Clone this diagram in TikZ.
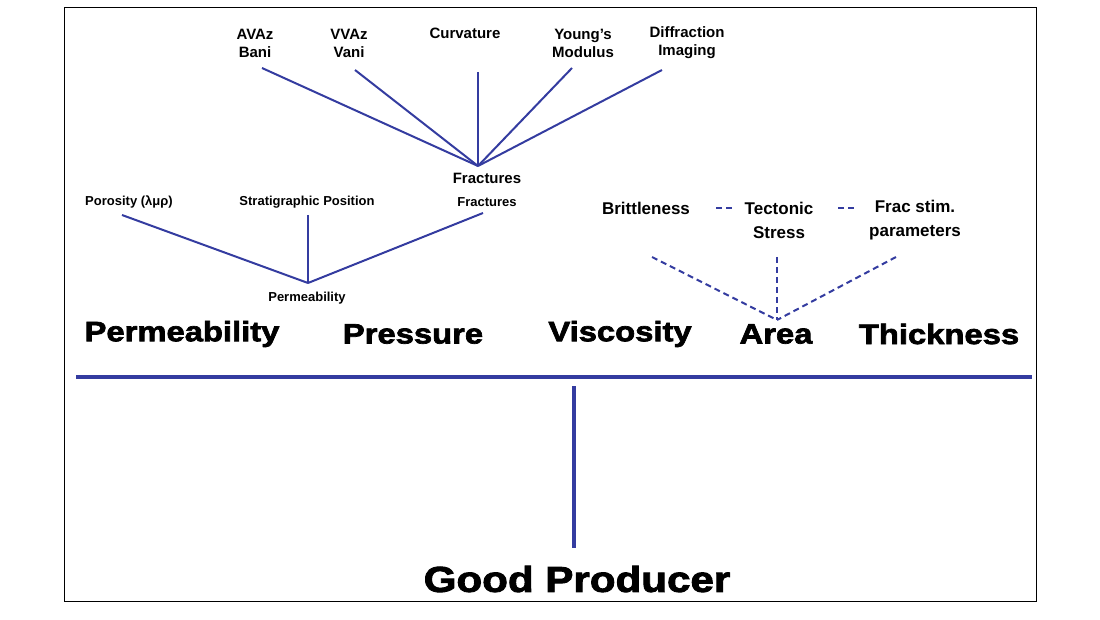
\documentclass[tikz,border=0pt]{standalone}
\usepackage{fontspec}
\setmainfont{Liberation Sans}
\newfontfamily\heavy[FakeBold=2.5,FakeStretch=1.17]{Liberation Sans}
\begin{document}
\begin{tikzpicture}[x=1pt,y=-1pt,
  every node/.style={font=\bfseries, inner sep=0pt, align=center},
  sm/.style={font=\fontsize{15}{18}\selectfont\bfseries},
  xs/.style={font=\fontsize{13}{16}\selectfont\bfseries},
  md/.style={font=\fontsize{17}{24}\selectfont\bfseries},
  big/.style={font=\fontsize{28}{32}\selectfont\heavy\bfseries},
  bl/.style={draw=lineblue, line width=2pt},
  bld/.style={draw=lineblue, line width=2pt, dashed, dash pattern=on 6pt off 4pt}]
\definecolor{lineblue}{RGB}{52,60,160}
\useasboundingbox (0,0) rectangle (1100,620);
\draw[line width=1pt] (64,8) rectangle (1036,601);
% top tree
\coordinate (fa) at (478,166);
\node[sm] (avaz) at (255,43) {AVAz\\Bani};
\node[sm] (vvaz) at (349,43) {VVAz\\Vani};
\node[sm] (curv) at (465,33) {Curvature};
\node[sm] (young) at (583,43) {Young's\\Modulus};
\node[sm] (diff) at (687,43) {Diffraction\\Imaging};
\coordinate (a1) at (262,68);\coordinate (a2) at (355,70);\coordinate (a3) at (478,72);
\coordinate (a4) at (572,68);\coordinate (a5) at (662,70);
\foreach \c in {a1,a2,a3,a4,a5} \draw[bl] (\c) -- (fa);
\node[sm] (fr1) at (487,178) {Fractures};
\node[xs] (fr2) at (487,202) {Fractures};
% permeability tree
\coordinate (pa) at (308,283);
\node[xs] (por) at (129,202) {Porosity (λμρ)};
\node[xs] (strat) at (307,202) {Stratigraphic Position};
\node[xs] (perm) at (307,298) {Permeability};
\coordinate (p1) at (122,215);\coordinate (p2) at (308,215);\coordinate (p3) at (483,213);
\foreach \c in {p1,p2,p3} \draw[bl] (\c) -- (pa);
% right tree
\node[md] (brit) at (646,208) {Brittleness};
\node[md] (tect) at (779,220) {Tectonic\\Stress};
\node[md] (frac) at (915,220) {Frac stim.\\parameters};
\draw[bld] (716,208) -- (735,208);
\draw[bld] (838,208) -- (857,208);
\coordinate (ra) at (777,320);
\coordinate (r1) at (652,257);\coordinate (r2) at (777,257);\coordinate (r3) at (896,257);
\foreach \c in {r1,r2,r3} \draw[bld] (\c) -- (ra);
% main row
\node[big] (n1) at (182,334) {Permeability};
\node[big] (n2) at (413,334) {Pressure};
\node[big] (n3) at (620,334) {Viscosity};
\node[big] (n4) at (776,334) {Area};
\node[big] (n5) at (939,334) {Thickness};
\coordinate (h1) at (76,377);\coordinate (h2) at (1032,377);
\draw[draw=lineblue, line width=4.5pt] (h1) -- (h2);
\node[font=\fontsize{36}{40}\selectfont\heavy\bfseries] (gp) at (577,579) {Good Producer};
\coordinate (v1) at (574,386);
\draw[draw=lineblue, line width=4pt] (v1) -- (574,548);
\end{tikzpicture}
\end{document}
